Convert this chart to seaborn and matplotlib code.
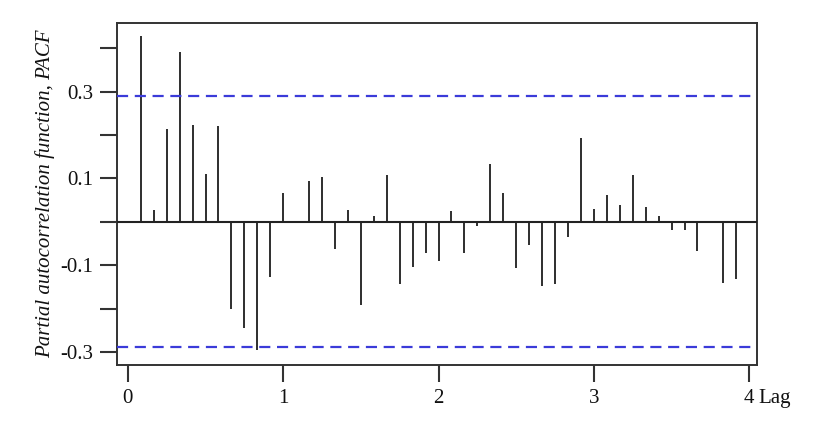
import numpy as np
import pandas as pd
import matplotlib
matplotlib.use("Agg")
import matplotlib.pyplot as plt
import seaborn as sns

# lag index in months (plotted in years: k / 12)
lag_months = list(range(1, 48))
pacf = [0.427, 0.026, 0.213, 0.391, 0.224, 0.111, 0.220, -0.201, -0.245, -0.295,
        -0.128, 0.066, 0.0, 0.094, 0.103, -0.063, 0.026, -0.192, 0.013, 0.107,
        -0.144, -0.104, -0.071, -0.091, 0.025, -0.071, -0.010, 0.134, 0.066, -0.107,
        -0.054, -0.148, -0.144, -0.034, 0.193, 0.030, 0.062, 0.038, 0.107, 0.033,
        0.013, -0.019, -0.019, -0.067, 0.0, -0.140, -0.131]
conf_bound = 0.289

y_ticks = [-0.3, -0.2, -0.1, 0.0, 0.1, 0.2, 0.3, 0.4]
y_labels = ["-0.3", "", "-0.1", "", "0.1", "", "0.3", ""]
x_ticks = [0, 1, 2, 3, 4]

df = pd.DataFrame({"lag": np.array(lag_months) / 12, "pacf": pacf})

sns.set_theme(style="ticks")
plt.rcParams["font.family"] = ["Liberation Serif", "DejaVu Serif"]

fig = plt.figure(figsize=(8.2, 4.23), dpi=100)
ax = fig.add_axes([117 / 820, 1 - 365 / 423, 640 / 820, 342 / 423])

# PACF stems
ax.vlines(df["lag"], 0, df["pacf"], color="#1e1e1e", lw=1.3, zorder=3)

ax.axhline(0, color="#222222", lw=1.5, zorder=3)
for b in (conf_bound, -conf_bound):
    ax.axhline(b, color="#3b3bd9", lw=1.6, dashes=(5, 3), zorder=4)

ax.set_xlim(-0.07, 4.05)
ax.set_ylim(-0.33, 0.458)
ax.set_xticks(x_ticks)
ax.set_xticklabels([str(t) for t in x_ticks])
ax.set_yticks(y_ticks)
ax.set_yticklabels(y_labels)

for s in ax.spines.values():
    s.set_color("#333333")
    s.set_linewidth(1.4)
ax.tick_params(axis="both", length=12, width=1.5, color="#333333",
               labelsize=15, labelcolor="#111111", pad=5)

ax.set_ylabel("Partial autocorrelation function, PACF", fontsize=15,
              style="italic", color="#111111", labelpad=4)
ax.set_xlabel("Lag", fontsize=15, color="#111111")
ax.xaxis.set_label_coords(1.028, -0.07)

fig.savefig("out.png", dpi=100)
